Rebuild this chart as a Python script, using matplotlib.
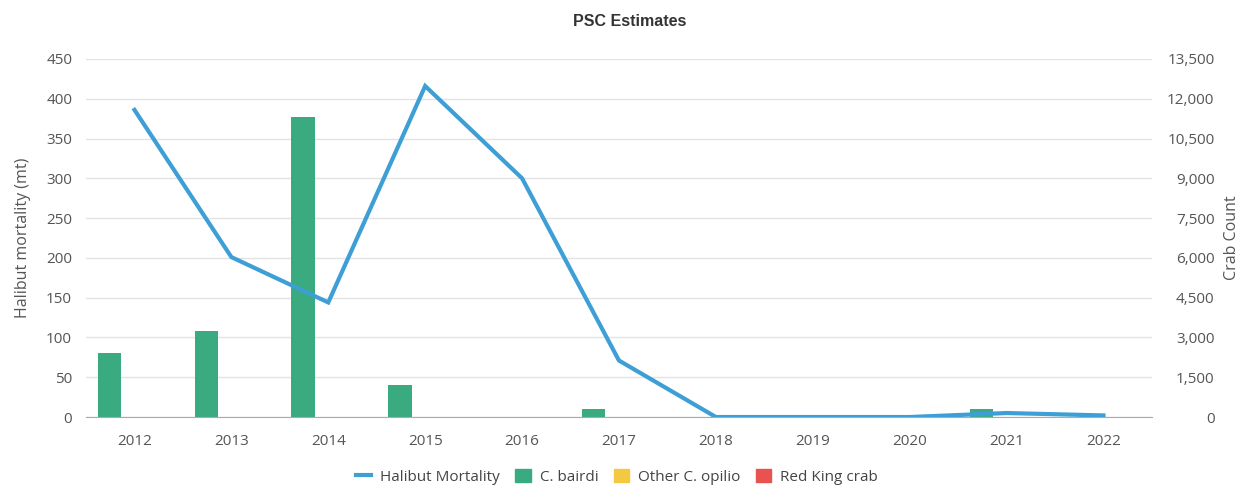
import numpy as np
import matplotlib.pyplot as plt
from matplotlib.patches import Patch
from matplotlib.lines import Line2D
from matplotlib.ticker import FuncFormatter

years = ['2012', '2013', '2014', '2015', '2016', '2017', '2018', '2019', '2020', '2021', '2022']
halibut = [386, 201, 144, 416, 300, 71, 0, 0, 0, 5, 2]
bairdi = [2400, 3240, 11300, 1190, 0, 300, 0, 0, 0, 300, 0]
opilio = [0, 0, 0, 0, 0, 0, 0, 0, 0, 0, 0]
red_king = [0, 0, 0, 0, 0, 0, 0, 0, 0, 0, 0]

plt.rcParams['font.family'] = ['Open Sans', 'DejaVu Sans']

fig = plt.figure(figsize=(12.54, 4.87), dpi=100)
ax = fig.add_axes([0.0686, 0.1437, 0.85, 0.7352])
ax2 = ax.twinx()

x = np.arange(len(years))
w = 0.24
ax2.bar(x - 0.26, bairdi, w, color='#3aaa80', zorder=2)
ax2.bar(x, opilio, w, color='#f5c842', zorder=2)
ax2.bar(x + 0.26, red_king, w, color='#e8534f', zorder=2)

ax.set_zorder(ax2.get_zorder() + 1)
ax.patch.set_visible(False)
ax.plot(x, halibut, color='#3d9fd6', lw=3, zorder=3, solid_joinstyle='miter')

ax.set_xlim(-0.5, len(years) - 0.5)
ax.set_ylim(0, 450)
ax2.set_ylim(0, 13500)
ax.set_yticks(np.arange(0, 451, 50))
ax2.set_yticks(np.arange(0, 13501, 1500))
ax2.yaxis.set_major_formatter(FuncFormatter(lambda v, p: f'{int(v):,}'))
ax.set_xticks(x)
ax.set_xticklabels(years)

# grid on the lower axes so it stays behind the bars
ax2.grid(axis='y', color='#e3e3e3', lw=1)
ax2.set_axisbelow(True)
for a in (ax, ax2):
    for s in a.spines.values():
        s.set_visible(False)
    a.tick_params(length=0, labelsize=11, colors='#555555')
ax.spines['bottom'].set_visible(True)
ax.spines['bottom'].set_color('#aaaaaa')
ax.tick_params(axis='x', pad=12)
ax.tick_params(axis='y', pad=10)
ax2.tick_params(axis='y', pad=45)
for t in ax2.get_yticklabels():
    t.set_horizontalalignment('right')

ax.set_ylabel('Halibut mortality (mt)', fontsize=11.5, color='#555555', labelpad=11)
ax2.set_ylabel('Crab Count', fontsize=11.5, color='#555555', labelpad=7)

fig.text(0.502, 0.955, 'PSC Estimates', ha='center', va='center', fontsize=11.5,
         fontweight='bold', color='#333333', family='Liberation Sans')

handles = [Line2D([], [], color='#3d9fd6', lw=3),
           Patch(color='#3aaa80'), Patch(color='#f5c842'), Patch(color='#e8534f')]
labels = ['Halibut Mortality', 'C. bairdi', 'Other C. opilio', 'Red King crab']
leg = fig.legend(handles, labels, loc='center', bbox_to_anchor=(0.492, 0.02), ncol=4,
                 frameon=False, fontsize=11, handlelength=1.0, handleheight=0.9,
                 columnspacing=1.0, handletextpad=0.6)
for t in leg.get_texts():
    t.set_color('#444444')

fig.savefig('out.png', dpi=100)
